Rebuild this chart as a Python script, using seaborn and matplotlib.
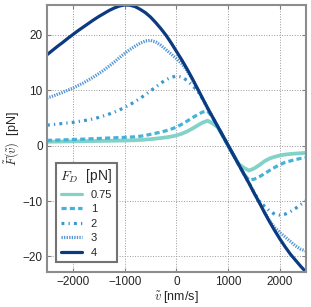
import numpy as np
import pandas as pd
import seaborn as sns
import matplotlib.pyplot as plt

sns.set_style("whitegrid")
plt.rcParams['font.family'] = ['Liberation Sans', 'DejaVu Sans']
plt.rcParams['mathtext.fontset'] = 'cm'

# drift velocity grid [nm/s]
v = np.arange(-2500, 2501, 100)

# mean force [pN] for each drive force F_D
f_075 = [0.7, 0.72, 0.73, 0.75, 0.76, 0.78, 0.79, 0.8, 0.82, 0.83, 0.85,
         0.86, 0.88, 0.89, 0.91, 0.92, 0.95, 0.98, 1.03, 1.1, 1.17,
         1.27, 1.38, 1.5, 1.65, 1.85, 2.15, 2.55, 3.05, 3.6, 4.15,
         4.5, 4.0, 3.3, 1.65, -0.05, -1.7, -3.3, -4.0, -4.5, -4.1,
         -3.5, -2.8, -2.3, -2.0, -1.75, -1.6, -1.5, -1.42, -1.36, -1.3]
f_1 = [0.95, 0.98, 1.01, 1.04, 1.07, 1.1, 1.14, 1.18, 1.22, 1.26, 1.3,
       1.34, 1.38, 1.42, 1.46, 1.5, 1.55, 1.6, 1.7, 1.85, 2.05,
       2.25, 2.45, 2.7, 3.0, 3.35, 3.85, 4.4, 5.0, 5.55, 6.05,
       6.25, 5.05, 3.35, 1.65, -0.05, -1.7, -3.4, -5.1, -6.2, -6.05,
       -5.6, -5.05, -4.45, -3.9, -3.4, -3.0, -2.75, -2.5, -2.3, -2.15]
f_2 = [3.7, 3.8, 3.9, 4.0, 4.1, 4.2, 4.35, 4.5, 4.65, 4.85, 5.1,
       5.4, 5.7, 6.05, 6.45, 6.9, 7.4, 7.95, 8.55, 9.2, 9.9,
       10.6, 11.3, 11.9, 12.35, 12.55, 12.4, 11.8, 10.9, 9.95, 8.5,
       6.75, 5.05, 3.35, 1.65, -0.05, -1.7, -3.4, -5.1, -6.75, -8.5,
       -10.0, -10.95, -11.8, -12.4, -12.55, -12.35, -11.9, -11.3, -10.6, -9.95]
f_3 = [8.6, 8.9, 9.25, 9.6, 10.0, 10.4, 10.85, 11.3, 11.85, 12.4, 13.0,
       13.65, 14.35, 15.1, 15.9, 16.65, 17.35, 17.95, 18.5, 18.9, 19.0,
       18.7, 18.1, 17.3, 16.5, 15.7, 14.8, 13.6, 12.0, 10.3, 8.5,
       6.75, 5.05, 3.35, 1.65, -0.05, -1.75, -3.4, -5.1, -6.75, -8.5,
       -10.25, -12.0, -13.6, -14.8, -15.7, -16.5, -17.3, -18.1, -18.7, -19.0]
f_4 = [16.4, 17.15, 17.9, 18.6, 19.35, 20.05, 20.75, 21.4, 22.05, 22.7, 23.3,
       23.85, 24.4, 24.85, 25.2, 25.4, 25.35, 25.1, 24.6, 24.0, 23.2,
       22.2, 21.1, 19.9, 18.5, 17.0, 15.5, 13.9, 12.2, 10.4, 8.6,
       6.8, 5.1, 3.4, 1.7, 0.0, -1.7, -3.4, -5.1, -6.8, -8.6,
       -10.3, -12.1, -13.8, -15.4, -16.9, -18.3, -19.6, -20.7, -21.8, -22.8]

levels = ['0.75', '1', '2', '3', '4']
series = [f_075, f_1, f_2, f_3, f_4]
colors = ['#82d2c8', '#45b3d8', '#3a98d0', '#4f93d4', '#0b3a80']
dashes = {'0.75': '', '1': (1.6, 1.0), '2': (0.9, 1.3, 0.4, 1.3),
          '3': (0.4, 0.4), '4': ''}

df = pd.concat([pd.DataFrame({'v': v, 'F': f, 'FD': lv})
                for lv, f in zip(levels, series)], ignore_index=True)

fig = plt.figure(figsize=(3.11, 3.07), dpi=100)
ax = fig.add_axes([0.151, 0.114, 0.833, 0.870])

sns.lineplot(data=df, x='v', y='F', hue='FD', style='FD', hue_order=levels,
             style_order=levels, palette=dict(zip(levels, colors)),
             dashes=dashes, linewidth=2.3, ax=ax)
ax.lines[0].set_linewidth(2.7)

ax.set_xlim(-2500, 2500)
ax.set_ylim(-22.8, 25.4)
ax.set_xticks([-2000, -1000, 0, 1000, 2000])
ax.set_yticks([-20, -10, 0, 10, 20])
ax.set_xlabel(r'$\tilde{v}$ [nm/s]', fontsize=9, labelpad=1)
ax.set_ylabel(r'$\tilde{F}(\tilde{v})$  [pN]', fontsize=9, labelpad=1)
ax.tick_params(direction='in', length=3, width=0.8, color='0.5',
               labelsize=8.5, pad=3, left=True, bottom=True, top=True, right=True)
ax.grid(True, ls=':', color='0.6', lw=0.7)
for s in ax.spines.values():
    s.set_color('0.55')
    s.set_linewidth(1.5)

handles, labels = ax.get_legend_handles_labels()
leg = ax.legend(handles, labels, title=r'$F_D$  [pN]', loc='lower left',
                bbox_to_anchor=(0.035, 0.037), borderaxespad=0, fontsize=8,
                title_fontsize=10, handlelength=1.9, labelspacing=0.4,
                fancybox=False, framealpha=1, edgecolor='0.45')
leg.get_frame().set_linewidth(1.5)

fig.savefig('out.png', dpi=100)
